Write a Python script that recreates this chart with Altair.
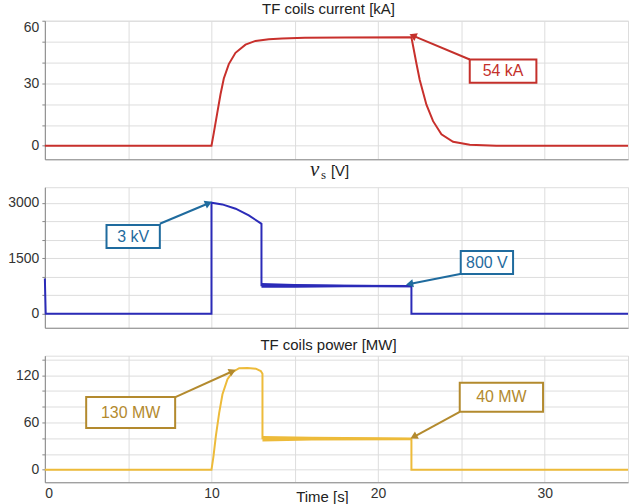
import altair as alt
import pandas as pd

# ---------------- data ----------------
# TF coils current [kA]
cur_t = [0, 10, 10.14, 10.34, 10.54, 10.74, 11.04, 11.44, 12.04, 12.64, 13.44, 14.24, 15.6, 18, 22.0,
         22.3, 22.5, 22.9, 23.3, 23.8, 24.5, 25.5, 27.1, 35]
cur_v = [0, 0, 6.2, 15.4, 24.6, 32.3, 39.2, 44.6, 48.5, 50.3, 51.1, 51.5, 51.8, 52.0, 52.1,
         39.5, 31.6, 19.7, 11.8, 5.5, 1.9, 0.5, 0, 0]

# v_s [V]
vs_t = [0, 0.05, 10, 10.0, 10.65, 11.45, 12.24, 12.94, 13.0, 13.0, 22.0, 22.0, 35]
vs_v = [950, 0, 0, 3000, 2955, 2838, 2658, 2450, 2430, 770, 745, 0, 0]
vs_band_t = [13.0, 15, 18, 22.0]
vs_band_lo = [700, 705, 712, 715]
vs_band_hi = [830, 800, 785, 775]

# TF coils power [MW]
pw_t = [0, 10, 10.12, 10.26, 10.46, 10.66, 10.96, 11.26, 11.66, 12.16, 12.66, 12.96, 13.06, 13.06, 22.0, 22.0, 35]
pw_v = [0, 0, 17, 42.5, 72, 96, 115, 124, 129, 129.4, 128.5, 125.5, 122, 40, 39, 0, 0]
pw_band_t = [13.06, 16, 22.0]
pw_band_lo = [36, 37, 37.5]
pw_band_hi = [43, 42, 41]

# annotations: label, box (t1, t2, v1, v2), arrow start (t, v), arrow tip (t, v), head angle
ann_labels = ["54 kA", "3 kV", "800 V", "130 MW", "40 MW"]
ann_panel = [0, 1, 1, 2, 2]
ann_box = [(25.5, 29.5, 30.2, 41.4), (3.7, 6.9, 1776, 2397), (24.96, 28.1, 1073, 1695),
           (2.48, 7.82, 53.1, 92.3), (24.9, 29.9, 73.6, 110.6)]
ann_from = [(25.5, 41.4), (6.9, 2432), (25.0, 1081), (7.8, 92.0), (24.9, 73.6)]
ann_to = [(22.15, 52.6), (9.76, 2973), (21.96, 811), (11.2, 124.6), (22.2, 42.5)]
ann_angle = [294, 67, 259, 66, 242]

FONT = "Liberation Sans"
SERIF = "Liberation Serif"
W = 585

line_colors = ["#C8302C", "#2B2BB8", "#EDBB3A"]
ann_colors = ["#C4302B", "#1F6B9E", "#B38A2E"]
domains = [[-6.5, 60], [-380, 3420], [-16, 145]]
grid_step = [10, 500, 20]
label_step = [30, 1500, 60]
heights = [139, 141, 127]


def panel(k, t, v, band=None, show_x=False, title=None):
    x_axis = alt.Axis(
        values=list(range(0, 36, 5)),
        labels=show_x,
        labelExpr="datum.value % 10 === 0 ? datum.label : ''",
        ticks=False,
        title="Time [s]" if show_x else None,
        titleY=19, titleX=278, titleBaseline="alphabetic",
        titleFont=FONT, titleFontSize=15, titleFontWeight="normal", titleColor="#222",
        labelFlush=True, labelPadding=4, labelFont=FONT, labelFontSize=14, labelColor="#333",
        format="d",
    )
    lo, hi = domains[k]
    yvals = list(range(0, int(hi) + 1, grid_step[k]))
    y_axis = alt.Axis(
        values=yvals,
        labelExpr=f"datum.value % {label_step[k]} === 0 ? datum.label : ''",
        title=None, tickSize=3, labelPadding=3, labelFlush=True,
        labelFont=FONT, labelFontSize=14, labelColor="#333", format="d",
    )
    X = alt.X("t:Q", scale=alt.Scale(domain=[0, 35], nice=False, zero=False), axis=x_axis)
    Y = alt.Y("v:Q", scale=alt.Scale(domain=domains[k], nice=False, zero=False), axis=y_axis)

    df = pd.DataFrame({"t": t, "v": v, "i": range(len(t))})
    layers = []
    if band is not None:
        bdf = pd.DataFrame({"t": band[0], "v": band[1], "v2": band[2]})
        layers.append(alt.Chart(bdf).mark_area(color=line_colors[k]).encode(x=X, y=Y, y2="v2:Q"))
    layers.append(alt.Chart(df).mark_line(color=line_colors[k], strokeWidth=2).encode(
        x=X, y=Y, order=alt.Order("i:Q")))

    idx = [j for j in range(len(ann_labels)) if ann_panel[j] == k]
    c = ann_colors[k]
    rdf = pd.DataFrame({"t": [ann_from[j][0] for j in idx], "v": [ann_from[j][1] for j in idx],
                        "t2": [ann_to[j][0] for j in idx], "v2": [ann_to[j][1] for j in idx]})
    layers.append(alt.Chart(rdf).mark_rule(color=c, strokeWidth=2).encode(x=X, y=Y, x2="t2:Q", y2="v2:Q"))
    hdf = pd.DataFrame({"t": [ann_to[j][0] for j in idx], "v": [ann_to[j][1] for j in idx],
                        "a": [ann_angle[j] for j in idx]})
    layers.append(alt.Chart(hdf).mark_point(shape="triangle", filled=True, size=70, color=c, opacity=1).encode(
        x=X, y=Y, angle=alt.Angle("a:Q", scale=None)))
    bdf2 = pd.DataFrame({"t": [ann_box[j][0] for j in idx], "t2": [ann_box[j][1] for j in idx],
                         "v": [ann_box[j][2] for j in idx], "v2": [ann_box[j][3] for j in idx]})
    layers.append(alt.Chart(bdf2).mark_rect(fill="white", stroke=c, strokeWidth=2).encode(
        x=X, x2="t2:Q", y=Y, y2="v2:Q"))
    tdf = pd.DataFrame({"t": [(ann_box[j][0] + ann_box[j][1]) / 2 for j in idx],
                        "v": [(ann_box[j][2] + ann_box[j][3]) / 2 for j in idx],
                        "lab": [ann_labels[j] for j in idx]})
    layers.append(alt.Chart(tdf).mark_text(color=c, font=FONT, fontSize=16, baseline="middle").encode(
        x=X, y=Y, text="lab:N"))

    if k == 1:
        one = pd.DataFrame({"z": [0]})
        layers.append(alt.Chart(one).mark_text(text="v", font=SERIF, fontStyle="italic", fontSize=21,
                                               color="#222", align="left", baseline="alphabetic").encode(
            x=alt.value(266), y=alt.value(-11)))
        layers.append(alt.Chart(one).mark_text(text="s", font=SERIF, fontSize=13,
                                               color="#222", align="left", baseline="alphabetic").encode(
            x=alt.value(277), y=alt.value(-8)))
        layers.append(alt.Chart(one).mark_text(text="[V]", font=FONT, fontSize=15,
                                               color="#222", align="left", baseline="alphabetic").encode(
            x=alt.value(287), y=alt.value(-11)))

    ch = alt.layer(*layers).properties(width=W, height=heights[k])
    if title:
        ch = ch.properties(title=alt.TitleParams(title, font=FONT, fontSize=15, fontWeight="normal",
                                                 color="#222", offset=3, dx=-8, anchor="middle"))
    return ch


p1 = panel(0, cur_t, cur_v, title="TF coils current [kA]")
p2 = panel(1, vs_t, vs_v, band=(vs_band_t, vs_band_lo, vs_band_hi))
p3 = panel(2, pw_t, pw_v, band=(pw_band_t, pw_band_lo, pw_band_hi), show_x=True, title="TF coils power [MW]")

chart = alt.vconcat(p1, p2, p3, spacing=28, bounds="flush").properties(
    padding={"left": 7, "top": 1, "right": 5, "bottom": 0}
).configure_view(stroke="#BDBDBD", strokeWidth=1).configure_axis(
    gridColor="#E6E6E6", gridWidth=1, domainColor="#A0A0A0", tickColor="#A0A0A0",
).configure(background="white")

chart.save("out.html", embed_options={"renderer": "svg", "actions": False})
